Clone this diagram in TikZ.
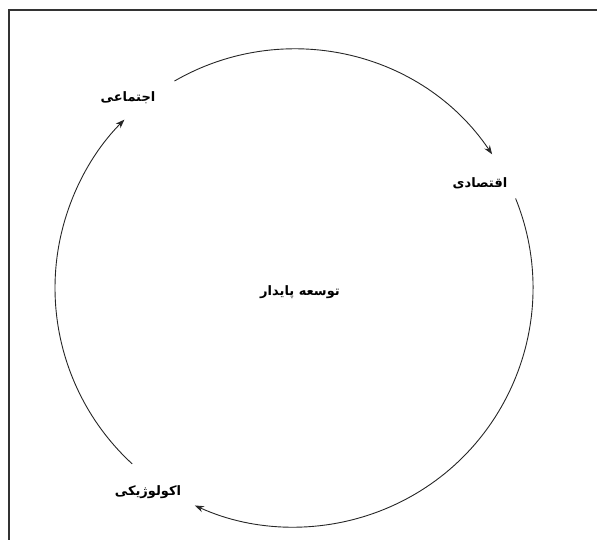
\documentclass[tikz,border=0pt]{standalone}
\usepackage{fontspec}
\TeXXeTstate=1
\newfontfamily\arabicfont[Script=Arabic]{DejaVu Sans}
\usetikzlibrary{arrows.meta}
\begin{document}
\begin{tikzpicture}[x=1pt,y=1pt,
  lbl/.style={font=\arabicfont\bfseries\fontsize{13}{15}\selectfont, inner sep=1pt, text=black},
  cyc/.style={draw=black!85, line width=0.9pt, -{Stealth[length=9pt,width=6.5pt]}},
  frame/.style={draw=black!80, line width=1.2pt}]
\useasboundingbox (0,0) rectangle (597,540);
\draw[frame] (9,0) -- (9,530) -- (597,530);
\coordinate (c) at (294,252);
\node[lbl] (soc) at (128,442) {\beginR اجتماعی\endR};
\node[lbl] (eco) at (480,357) {\beginR اقتصادی\endR};
\node[lbl] (sus) at (300,248) {\beginR توسعه پایدار\endR};
\node[lbl] (env) at (148,48) {\beginR اکولوژیکی\endR};
\path (c) ++(120:239pt) coordinate (a1s);
\path (c) ++(22:239pt) coordinate (a2s);
\path (c) ++(-132.6:239pt) coordinate (a3s);
\draw[cyc] (a1s) arc[start angle=120, end angle=34, radius=239pt];
\draw[cyc] (a2s) arc[start angle=22, end angle=-114.5, radius=239pt];
\draw[cyc] (a3s) arc[start angle=-132.6, end angle=-224.8, radius=239pt];
\end{tikzpicture}
\end{document}
